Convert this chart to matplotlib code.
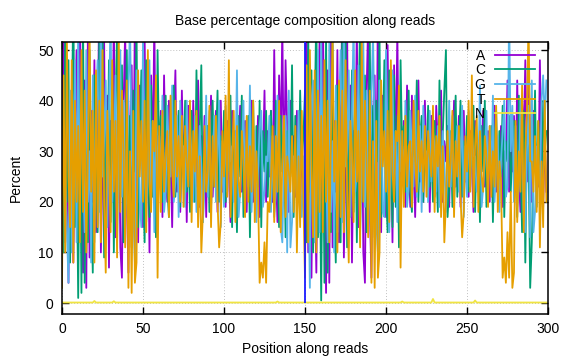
import matplotlib
matplotlib.use('Agg')
import matplotlib.pyplot as plt
import numpy as np

plt.rcParams['font.family'] = ['Liberation Sans', 'DejaVu Sans']

# ---------------- data (read 1: positions 0-149, read 2: positions 150-299) ----------------
A_read1 = [30, 58, 12, 45, 4, 40, 22, 8, 35, 50,
           18, 62, 25, 6, 44, 3, 55, 9, 38, 20,
           48, 14, 33, 60, 10, 27, 52, 16, 41, 7,
           36, 24, 57, 13, 30, 46, 11, 5, 39, 54,
           21, 6, 35, 47, 17, 58, 26, 12, 43, 30,
           15, 53, 22, 38, 10, 45, 28, 56, 19, 33,
           25, 38, 17, 45, 27, 20, 40, 30, 15, 34,
           46, 22, 32, 18, 42, 26, 35, 16, 39, 28,
           20, 40, 29, 23, 44, 19, 33, 26, 37, 17,
           35, 25, 41, 21, 30, 38, 18, 28, 40, 22,
           32, 19, 36, 26, 16, 38, 24, 34, 20, 30,
           39, 22, 27, 36, 18, 33, 23, 40, 20, 30,
           26, 37, 17, 32, 28, 42, 20, 34, 25, 38,
           20, 50, 27, 16, 45, 30, 55, 22, 48, 35,
           18, 40, 26, 33, 21, 38, 28, 17, 35, 20]
A_read2 = [28, 60, 10, 47, 5, 38, 24, 6, 37, 52,
           16, 58, 27, 2, 46, 4, 53, 11, 36, 22,
           50, 12, 35, 58, 9, 29, 54, 14, 43, 8,
           34, 26, 55, 15, 28, 48, 10, 4, 41, 56,
           19, 5, 37, 45, 15, 60, 24, 14, 41, 32,
           17, 51, 24, 36, 12, 47, 26, 54, 21, 31,
           26, 36, 19, 43, 28, 19, 41, 28, 17, 32,
           44, 24, 31, 20, 40, 27, 34, 18, 37, 30,
           21, 39, 31, 22, 42, 20, 32, 28, 35, 19,
           33, 26, 40, 23, 28, 37, 19, 29, 38, 24,
           30, 21, 34, 27, 18, 36, 25, 32, 22, 28,
           38, 23, 26, 34, 20, 31, 25, 39, 22, 28,
           27, 35, 19, 30, 29, 44, 22, 32, 26, 37,
           22, 44, 25, 18, 40, 32, 48, 24, 46, 33,
           20, 38, 28, 31, 23, 48, 26, 19, 33, 22]

C_read1 = [40, 10, 55, 20, 48, 8, 35, 60, 15, 30,
           1, 42, 2, 56, 4, 38, 12, 50, 22, 6,
           45, 28, 14, 52, 20, 58, 9, 36, 25, 48,
           16, 44, 10, 38, 54, 22, 31, 47, 12, 28,
           50, 19, 37, 11, 42, 26, 55, 15, 33, 46,
           24, 12, 48, 30, 17, 43, 21, 35, 13, 50,
           28, 37, 20, 32, 41, 23, 17, 35, 27, 43,
           21, 30, 38, 19, 35, 26, 40, 22, 32, 18,
           38, 26, 20, 46, 24, 34, 47, 16, 29, 22,
           35, 18, 32, 40, 23, 30, 42, 20, 33, 26,
           38, 20, 30, 26, 41, 15, 34, 28, 14, 37,
           25, 41, 17, 31, 27, 37, 13, 33, 40, 20,
           35, 23, 40, 15, 34, 26, 38, 21, 32, 38,
           24, 18, 40, 29, 15, 37, 26, 35, 13, 34,
           29, 25, 47, 17, 37, 27, 21, 42, 28, 33]
C_read2 = [42, 12, 53, 22, 46, 10, 37, 58, 13, 32,
           0.5, 40, 4, 54, 6, 36, 14, 52, 20, 8,
           43, 30, 12, 54, 22, 56, 11, 34, 27, 46,
           18, 42, 12, 36, 56, 20, 33, 45, 14, 26,
           52, 17, 39, 13, 40, 28, 53, 17, 31, 48,
           22, 14, 46, 32, 15, 45, 19, 37, 11, 48,
           29, 35, 22, 30, 42, 22, 18, 34, 28, 44,
           20, 32, 37, 20, 33, 27, 39, 23, 30, 20,
           36, 28, 18, 44, 25, 33, 42, 50, 17, 23,
           34, 19, 30, 41, 21, 31, 40, 21, 32, 28,
           37, 22, 29, 27, 39, 18, 32, 29, 16, 35,
           26, 40, 19, 29, 29, 35, 16, 32, 38, 22,
           34, 25, 39, 17, 32, 28, 37, 22, 30, 36,
           25, 17, 41, 28, 14, 38, 8, 34, 30, 3,
           12, 26, 42, 19, 36, 29, 23, 40, 30, 34]

G_read1 = [20, 35, 25, 15, 4, 42, 10, 22, 48, 12,
           55, 20, 38, 25, 14, 50, 20, 30, 8, 45,
           12, 40, 48, 18, 60, 25, 32, 44, 15, 38,
           58, 20, 28, 45, 12, 26, 50, 21, 40, 17,
           22, 43, 55, 30, 18, 8, 46, 38, 20, 15,
           52, 28, 16, 25, 48, 20, 36, 14, 42, 24,
           33, 24, 41, 18, 22, 39, 29, 25, 43, 20,
           24, 37, 17, 40, 28, 31, 19, 40, 23, 35,
           29, 20, 37, 18, 22, 35, 27, 16, 26, 41,
           21, 38, 19, 26, 37, 20, 29, 40, 15, 32,
           19, 39, 22, 35, 28, 31, 20, 25, 46, 17,
           22, 29, 40, 20, 36, 23, 43, 18, 26, 34,
           16, 26, 35, 38, 19, 22, 29, 28, 37, 18,
           33, 17, 22, 41, 29, 15, 12, 28, 37, 10,
           42, 11, 16, 29, 26, 20, 38, 22, 17, 29]
G_read2 = [22, 33, 27, 3, 40, 44, 12, 20, 50, 14,
           53, 22, 36, 27, 12, 52, 18, 32, 10, 43,
           14, 38, 50, 16, 58, 27, 30, 46, 17, 36,
           56, 22, 26, 47, 14, 24, 52, 19, 42, 15,
           24, 41, 53, 32, 16, 10, 44, 40, 18, 17,
           50, 30, 14, 27, 46, 22, 34, 16, 40, 26,
           31, 25, 40, 19, 23, 38, 30, 23, 41, 21,
           25, 35, 18, 39, 29, 30, 20, 38, 24, 34,
           31, 22, 35, 19, 23, 34, 28, 18, 27, 40,
           23, 37, 20, 27, 35, 22, 28, 39, 17, 31,
           21, 38, 23, 34, 29, 29, 22, 26, 43, 19,
           23, 28, 38, 22, 35, 25, 41, 20, 27, 33,
           18, 28, 34, 40, 21, 23, 58, 30, 39, 20,
           35, 19, 23, 40, 31, 17, 14, 30, 39, 13,
           44, 14, 18, 31, 27, 22, 40, 45, 36, 44]

T_read1 = [3, 45, 10, 52, 25, 15, 48, 8, 40, 20,
           35, 12, 50, 18, 42, 10, 30, 55, 22, 38,
           8, 46, 15, 40, 12, 50, 20, 6, 38, 28,
           14, 48, 22, 36, 9, 55, 18, 42, 30, 11,
           44, 3, 30, 2, 38, 4, 8, 46, 25, 36,
           20, 40, 14, 50, 24, 18, 36, 30, 45, 5,
           35, 18, 38, 22, 29, 34, 17, 41, 26, 21,
           40, 25, 33, 20, 37, 19, 35, 28, 23, 40,
           16, 34, 26, 38, 15, 29, 10, 18, 35, 22,
           26, 39, 15, 33, 23, 37, 20, 11, 16, 34,
           25, 41, 21, 48, 17, 29, 38, 16, 35, 24,
           21, 34, 28, 17, 37, 20, 31, 22, 40, 16,
           30, 22, 4, 8, 5, 12, 4, 20, 18, 25,
           35, 16, 33, 22, 40, 14, 28, 37, 17, 29,
           26, 22, 33, 18, 35, 10, 29, 15, 38, 20]
T_read2 = [5, 47, 12, 50, 27, 13, 46, 10, 42, 18,
           37, 14, 48, 20, 40, 12, 32, 53, 24, 36,
           10, 44, 17, 42, 14, 48, 22, 8, 36, 30,
           16, 46, 24, 34, 11, 53, 20, 40, 28, 13,
           42, 4, 32, 3, 36, 5, 10, 44, 27, 34,
           22, 38, 16, 48, 26, 20, 34, 32, 43, 7,
           34, 19, 37, 23, 31, 32, 19, 40, 28, 22,
           38, 26, 32, 22, 35, 21, 34, 29, 25, 39,
           18, 33, 27, 37, 17, 31, 12, 20, 34, 23,
           28, 38, 17, 32, 25, 35, 21, 13, 18, 33,
           26, 40, 22, 45, 19, 31, 37, 18, 34, 25,
           22, 33, 29, 19, 35, 21, 30, 23, 39, 18,
           28, 24, 5, 9, 4, 14, 5, 22, 3, 6,
           36, 16, 30, 22, 43, 14, 30, 38, 56, 28,
           28, 22, 33, 18, 36, 11, 28, 15, 40, 20]

# N is ~0 everywhere except a few small bumps
N_baseline = 0.1
N_bump_positions = [20, 32, 133, 210, 229, 255]
N_bump_values = [0.4, 0.35, 0.3, 0.3, 0.8, 0.5]

read_boundary = 150

series_labels = ['A', 'C', 'G', 'T', 'N']
series_colors = ['#9400d3', '#009e73', '#56b4e9', '#e69f00', '#f0e442']

# ---------------- build ----------------
A = np.array(A_read1 + A_read2, dtype=float)
C = np.array(C_read1 + C_read2, dtype=float)
G = np.array(G_read1 + G_read2, dtype=float)
T = np.array(T_read1 + T_read2, dtype=float)
positions = np.arange(len(A))
N = np.full(len(A), N_baseline)
N[N_bump_positions] = N_bump_values

fig = plt.figure(figsize=(5.76, 3.6), dpi=100)
ax = fig.add_axes([62/576, 46/360, 486/576, 272/360])

for vals, lab, col in zip([A, C, G, T, N], series_labels, series_colors):
    ax.plot(positions, vals, color=col, lw=1.3, label=lab)

ax.vlines(read_boundary, 0, 60, color='#1a1aff', lw=1.3, zorder=5)

ax.set_xlim(0, 300)
ax.set_ylim(-2.17, 51.6)
ax.set_xticks(np.arange(0, 301, 50))
ax.set_yticks(np.arange(0, 51, 10))
ax.tick_params(direction='in', top=True, right=True, length=5, width=1,
               labelsize=10, pad=6)
ax.grid(True, color='#c0c0c0', linestyle=(0, (1, 2)), lw=0.7)
for s in ax.spines.values():
    s.set_linewidth(1.1)

ax.set_title('Base percentage composition along reads', fontsize=10, pad=12)
ax.set_xlabel('Position along reads', fontsize=10, labelpad=4)
ax.set_ylabel('Percent', fontsize=10, labelpad=11)

leg = ax.legend(loc='upper right', bbox_to_anchor=(473/486, 1 - 6.5/272),
                frameon=False, markerfirst=False, fontsize=10,
                handlelength=2.9, handletextpad=0.7, labelspacing=0.05,
                borderaxespad=0, borderpad=0)

fig.savefig('out.png', dpi=100)
